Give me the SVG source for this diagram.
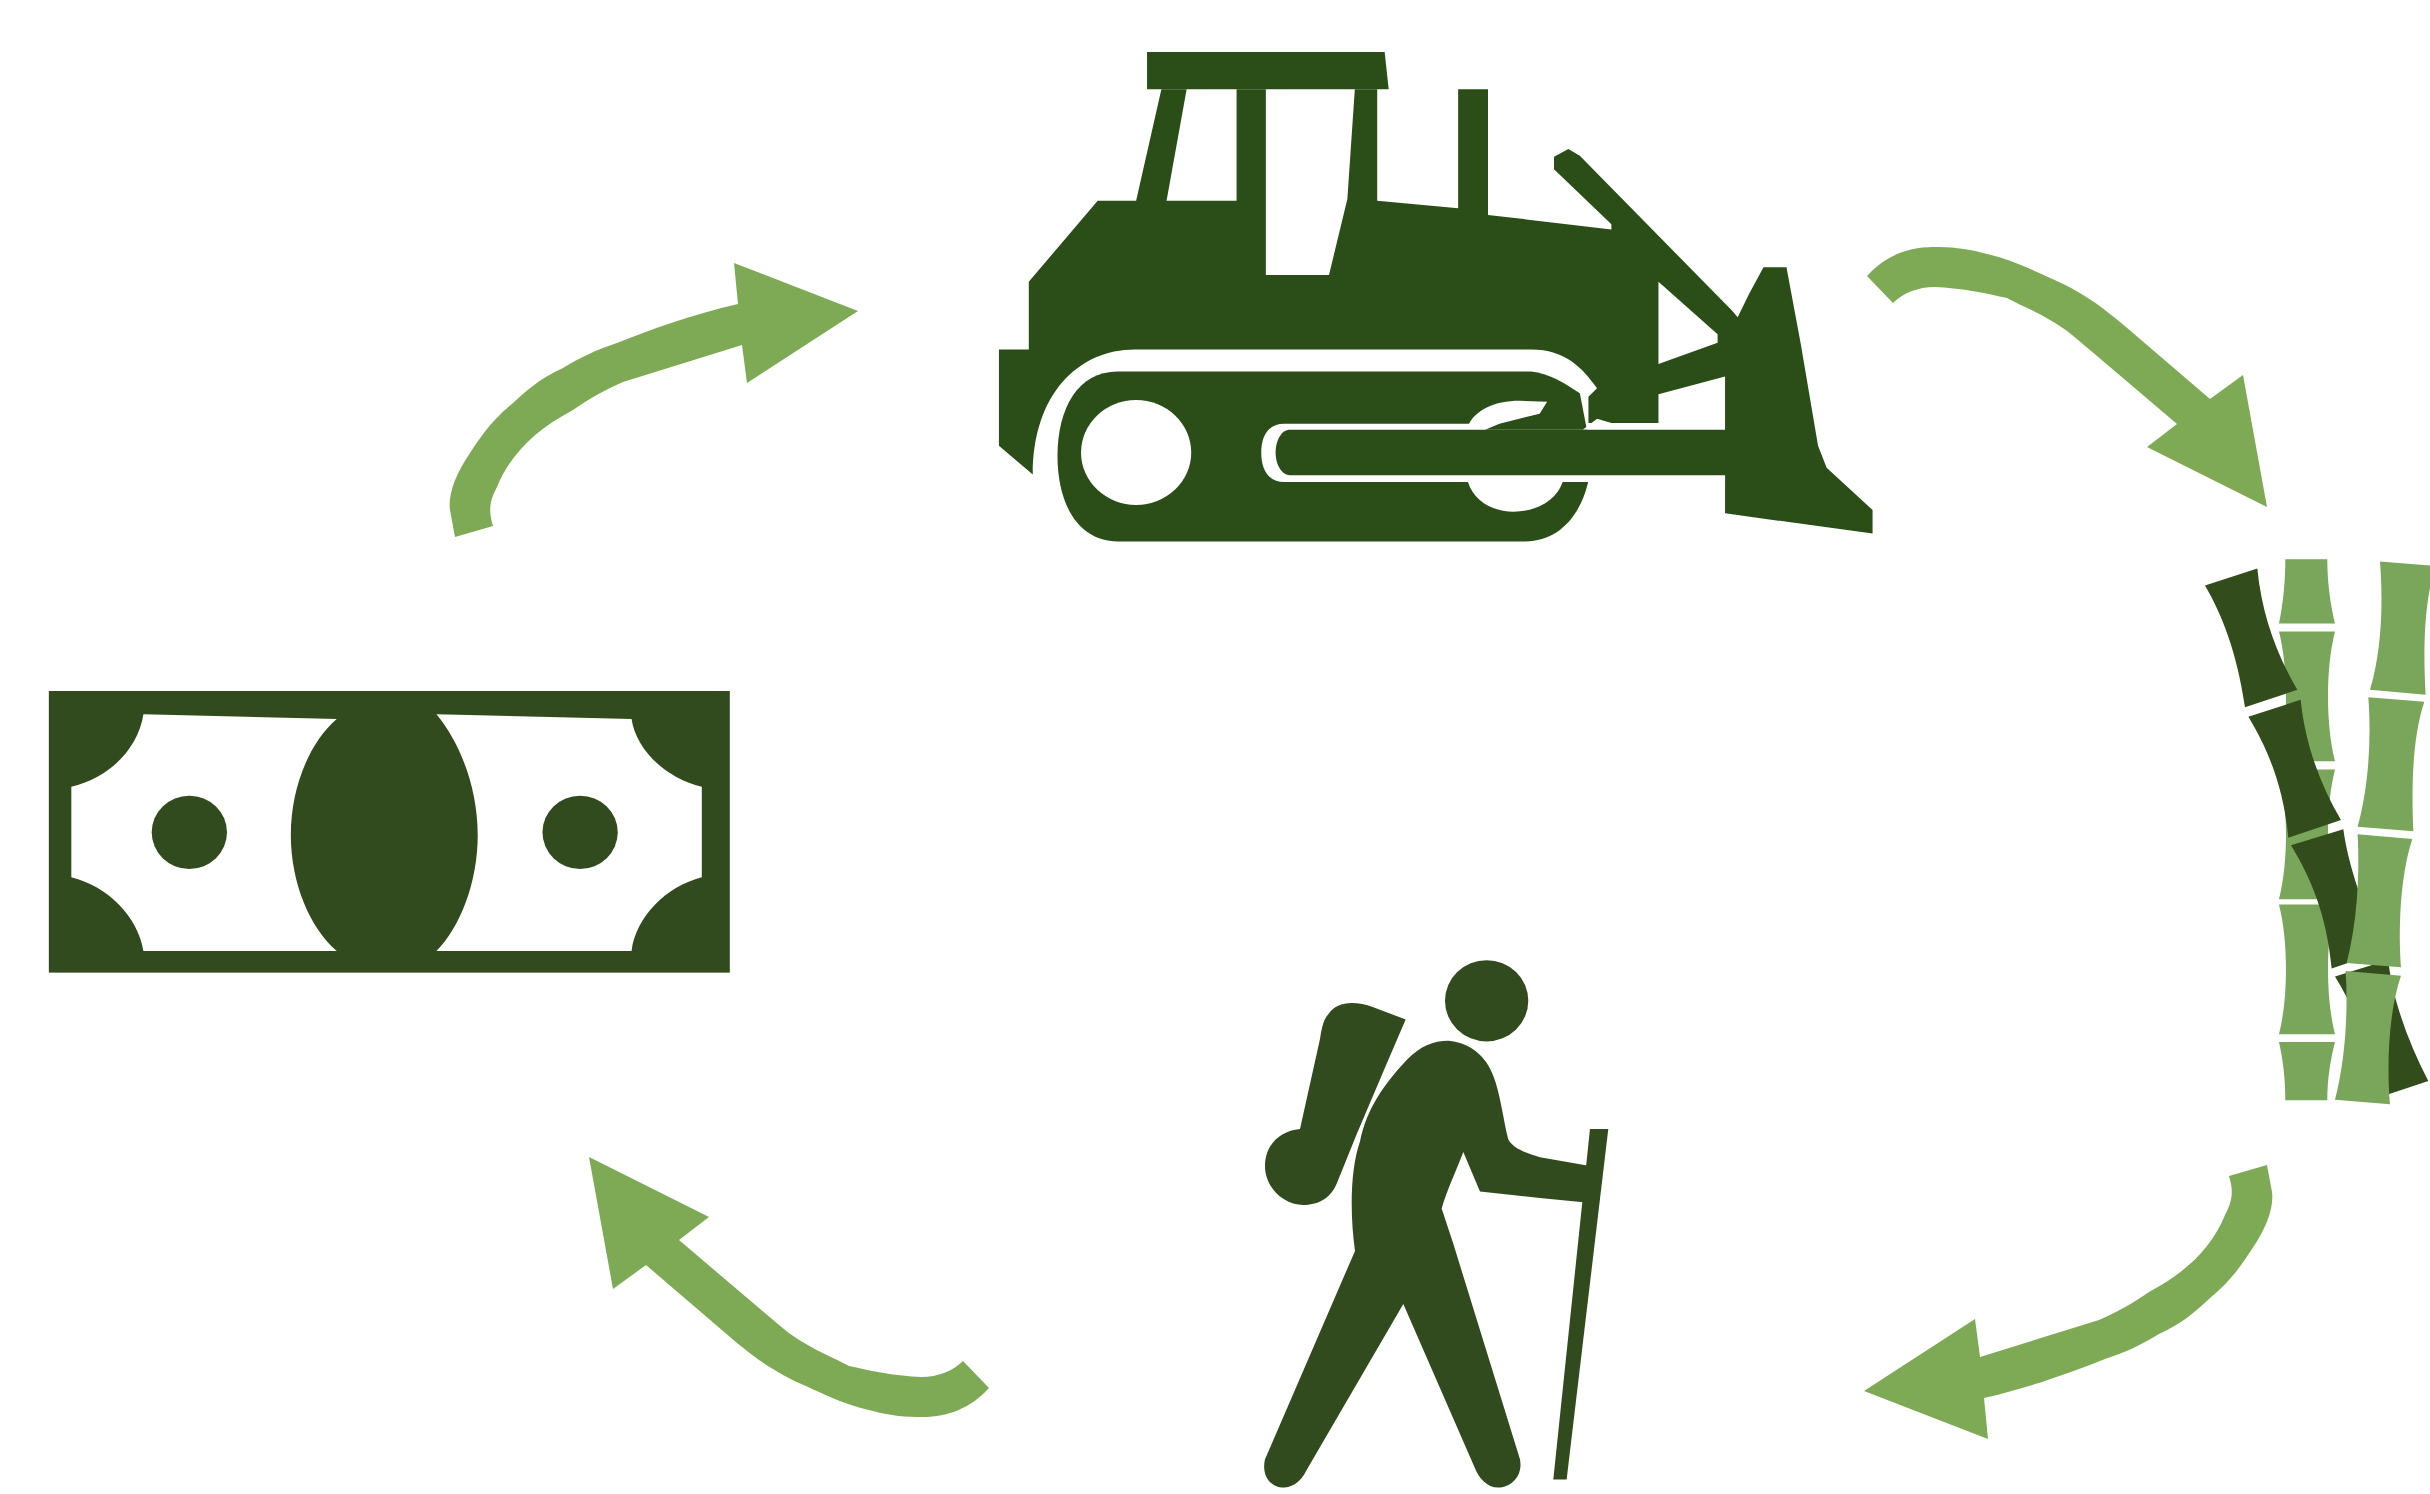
<svg xmlns="http://www.w3.org/2000/svg" xmlns:xlink="http://www.w3.org/1999/xlink" width="2430" height="1494" viewBox="0 0 2430 1494">
<style>
.arrow{fill:#7EAA55}
.dozer{fill:#2B4E18}
.dark{fill:#324B1E}
.light{fill:#79A65B}
.bdark{fill:#324D1B}
.w{fill:#fff}
</style>
<defs>
<path id="arrowA" d="M455,537 L493,526 C488,510 490,500 497,487 C510,455 535,430 573,410 C590,398 605,390 623,382 L742,345 L747,383 L858,311 L734,263 L738,304 C690,315 650,330 617,343 C595,350 580,358 563,368 C540,378 525,392 513,403 C490,422 480,438 470,453 C455,475 448,495 450,510 Z"/>
<path id="arrowB" d="M1867,276 L1893,303 C1903,295 1915,288 1930,288 C1945,287 1955,288 1963,289 C980,0 0,0 0,0 Z" style="display:none"/>
<path id="arrowC" d="M1867,276 L1893,303 C1903,293 1918,287 1935,287 C1960,288 1985,293 2007,298 C2022,306 2037,312 2050,320 C2065,328 2078,340 2090,350 L2177,424 L2147,447 L2267,507 L2243,375 L2210,399 L2133,333 C2118,320 2100,305 2083,295 C2068,285 2052,279 2037,272 C2020,264 2002,257 1983,253 C1965,248 1950,247 1933,247 C1908,247 1885,256 1867,276 Z"/>
<path id="seg" d="M297,0 L465,0 C437,100 437,251 465,351 L297,351 C325,251 325,100 297,0Z"/>
</defs>
<rect class="w" width="2430" height="1494"/>
<g id="connectors">
<use xlink:href="#arrowA" class="arrow"/>
<use xlink:href="#arrowC" class="arrow"/>
<use xlink:href="#arrowA" class="arrow" transform="rotate(180 1361 851)"/>
<use xlink:href="#arrowC" class="arrow" transform="rotate(180 1428 832)"/>
</g>
<g id="bulldozer" transform="translate(980 30) scale(.574 .338)">
<path class="dozer" d="M291,65 L705,65 L712,175 L291,175Z"/>
<path class="dozer" fill-rule="evenodd" d="M33,945 L85,945 L85,745 L205,505 L272,505 L316,175 L360,175 L325,505 L447,505 L447,175 L498,175 L498,725 L608,725 L640,500 L653,175 L692,175 L692,505 L833,527 L833,175 L885,175 L885,547 L1100,590 L1100,575 L1000,412 L1000,375 L1025,352 L1045,372 L1310,830 L1320,850 L1340,780 L1365,702 L1405,702 L1430,930 L1460,1230 L1475,1295 L1555,1420 L1555,1490 L1298,1430 L1298,1025 L1182,1078 L1182,1163 L1060,1163 L1060,1085 L1075,1060 C1050,1000 1020,945 960,945 L270,945 C170,945 92,1080 92,1315 L33,1230 Z M1182,745 L1285,900 L1285,925 L1182,988 Z"/>
<path class="dozer" d="M240,1010 L960,1010 C990,1015 1020,1045 1045,1075 L1065,1250 C1065,1400 1020,1513 950,1513 L240,1513 C170,1513 135,1400 135,1260 C135,1120 170,1010 240,1010Z"/>
<ellipse class="w" cx="272" cy="1250" rx="96" ry="155"/>
<path class="w" d="M530,1165 L852,1165 C865,1125 895,1097 940,1097 L988,1100 L975,1135 L905,1165 L880,1183 L1298,1183 L1298,1337 L1065,1337 L1015,1337 C1005,1390 970,1425 930,1425 C890,1425 860,1390 850,1337 L530,1337 C500,1337 490,1295 490,1250 C490,1205 500,1165 530,1165Z"/>
<path class="w" d="M1050,1183 L1075,1150 L1100,1163 L1182,1163 L1182,1183Z"/>
<path class="dozer" d="M540,1183 L1300,1183 L1300,1317 L540,1317 C525,1317 515,1285 515,1250 C515,1215 525,1183 540,1183Z"/>
</g>
<g id="bamboo" transform="translate(2180 540) scale(.3333 .37)">
<clipPath id="half1"><rect x="280" y="52" width="200" height="175"/></clipPath>
<clipPath id="half2"><rect x="280" y="1357" width="200" height="158"/></clipPath>
<use xlink:href="#seg" class="light" y="-124" clip-path="url(#half0)" style="display:none"/>
<path class="light" d="M316,52 L442,52 C442,110 450,170 465,226 L297,226 C310,170 316,110 316,52Z"/>
<use xlink:href="#seg" class="light" y="247"/>
<use xlink:href="#seg" class="light" y="620" transform="translate(0 0)"/>
<use xlink:href="#seg" class="light" y="985"/>
<path class="light" d="M297,1357 L465,1357 C450,1410 442,1460 442,1514 L316,1514 C316,1460 310,1410 297,1357Z"/>
<path class="bdark" d="M75,123 L232,77 C245,200 290,310 352,405 L195,452 C170,300 125,200 75,123Z"/>
<path class="bdark" d="M205,478 L362,432 C375,550 420,660 483,757 L325,805 C310,660 260,560 205,478Z"/>
<path class="bdark" d="M333,825 L490,782 C505,880 550,1000 612,1110 L455,1158 C440,1010 390,910 333,825Z"/>
<path class="bdark" d="M465,1180 L625,1135 C635,1230 680,1350 745,1462 L585,1510 C570,1360 520,1260 465,1180Z"/>
<path class="light" d="M600,58 L767,70 C730,170 730,310 737,418 L570,405 C605,300 610,170 600,58Z"/>
<path class="light" d="M565,425 L733,437 C695,540 695,680 700,787 L533,775 C565,670 575,540 565,425Z"/>
<path class="light" d="M533,795 L697,808 C660,910 655,1050 663,1155 L500,1143 C530,1040 540,910 533,795Z"/>
<path class="light" d="M497,1165 L663,1178 C625,1280 620,1420 630,1525 L465,1513 C495,1410 505,1280 497,1165Z"/>
</g>
<g id="hiker" transform="translate(1240 940) scale(.3333 .3533)">
<ellipse class="dark" cx="740" cy="172" rx="125" ry="115"/>
<path class="dark" d="M265,210 C290,175 340,170 400,190 L497,225 L440,350 L350,550 L290,690 C270,735 230,750 190,750 C130,750 75,700 75,640 C75,580 120,540 180,535 L240,280 C245,250 250,225 265,210Z"/>
<path class="dark" d="M345,880 C330,780 330,650 360,570 C380,480 430,410 500,340 C540,300 580,285 625,285 C690,290 740,330 760,385 C780,430 790,510 805,565 C820,590 850,600 900,615 L1050,640 L1030,742 L900,730 L720,712 L670,600 C650,650 620,710 605,760 L640,860 L840,1470 C850,1520 810,1550 775,1550 C740,1550 715,1520 705,1495 L490,1030 L200,1500 C180,1540 150,1550 125,1550 C85,1545 65,1510 75,1470 Z"/>
<path class="dark" d="M1050,535 L1105,535 L980,1527 L940,1527Z"/>
</g>
<g id="money" transform="translate(30 670) scale(.4592 .3333)">
<rect class="dark" x="41" y="63" width="1483" height="845"/>
<path class="w" d="M247,133 L668,147 C610,215 568,350 568,495 C568,640 610,775 668,843 L247,843 C235,740 170,650 90,622 L90,350 C170,325 235,240 247,133Z"/>
<path class="w" d="M885,133 L1310,147 C1320,240 1385,325 1463,350 L1463,622 C1385,650 1320,740 1310,843 L885,843 C935,775 975,640 975,495 C975,350 935,215 885,133Z"/>
<ellipse class="dark" cx="347" cy="487" rx="82" ry="110"/>
<ellipse class="dark" cx="1198" cy="487" rx="82" ry="110"/>
</g>
</svg>
